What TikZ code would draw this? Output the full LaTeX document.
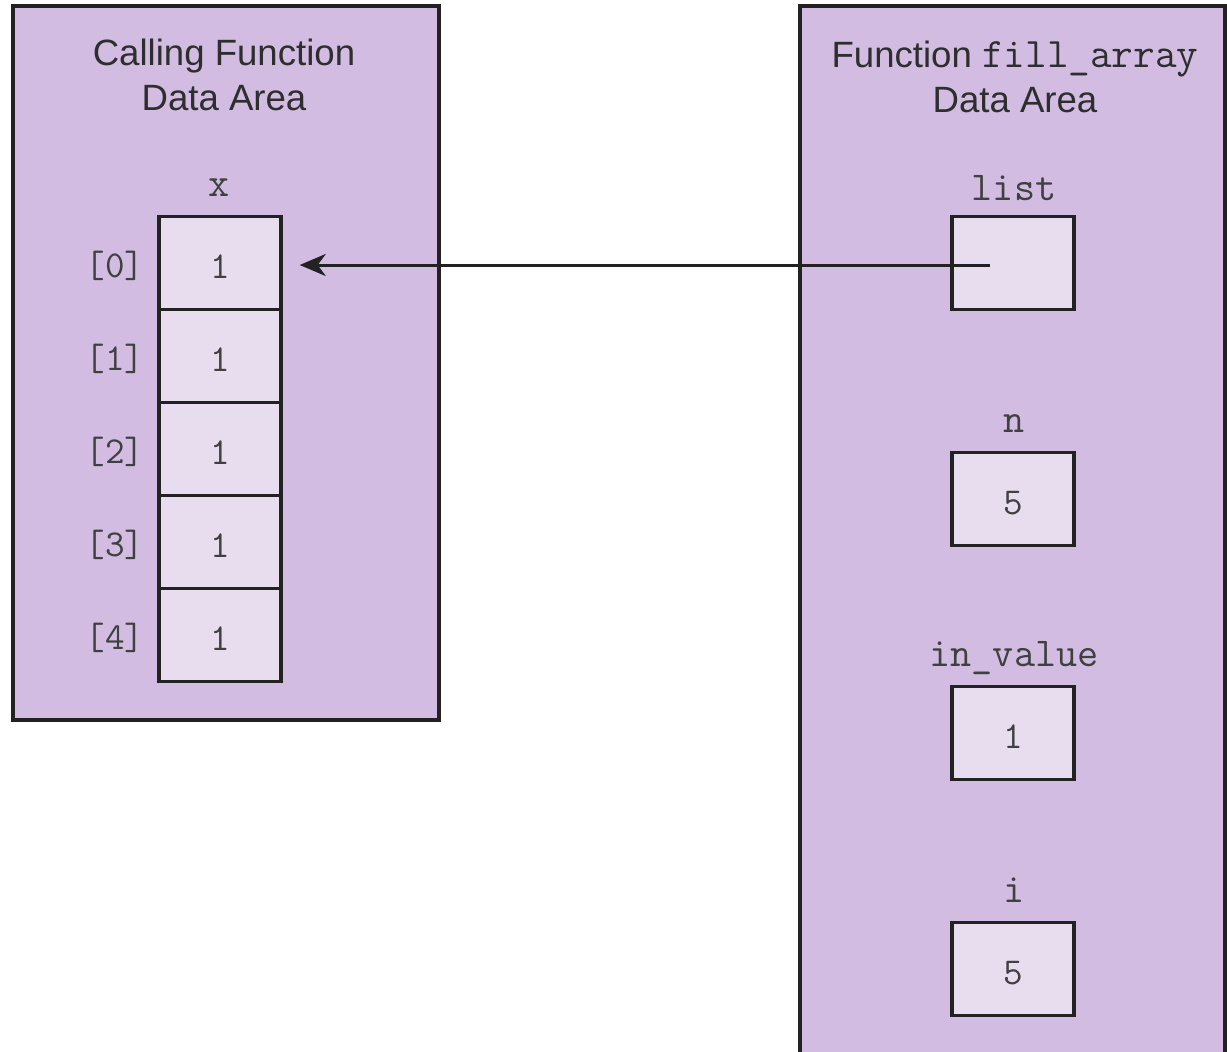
\documentclass[tikz,border=0pt]{standalone}
\usepackage{fontspec}
\setmainfont{Liberation Sans}
\usetikzlibrary{arrows.meta}
\definecolor{areafill}{HTML}{D2BCE2}
\definecolor{cellfill}{HTML}{E8DCEF}
\definecolor{edge}{HTML}{222222}
\definecolor{ink}{HTML}{2E2E2E}
\definecolor{codeink}{HTML}{404040}

% a cell value, set a little below the cell's centre
\newcommand{\cellval}[1]{\raisebox{-2pt}[\height][0pt]{#1}}

\begin{document}
\begin{tikzpicture}[x=0.5pt,y=-0.5pt,
  area/.style={draw=edge,fill=areafill,line width=1.7pt},
  cell/.style={draw=edge,fill=cellfill,line width=1.7pt,
    minimum width=61pt,minimum height=46.5pt,inner sep=0pt,
    font=\ttfamily\fontsize{19}{22}\selectfont,text=codeink},
  title/.style={align=center,font=\fontsize{18.3}{22.5}\selectfont,text=ink},
  varname/.style={font=\ttfamily\fontsize{20.5}{22}\selectfont,text=codeink},
  index/.style={font=\ttfamily\fontsize{19}{22}\selectfont,text=codeink},
  ptr/.style={draw=edge,line width=1.5pt,-{Stealth[length=13pt,width=11pt,inset=4pt]}}
]
\useasboundingbox (0,0) rectangle (1227,1051);

% the two data areas (the callee's area runs off the bottom edge)
\draw[area] (13,6) rectangle (439,720);
\begin{scope}
  \clip (0,0) rectangle (1227,1051);
  \draw[area] (800,6) rectangle (1225,1080);
\end{scope}

% calling function
\node[title] (calltitle) at (224,75) {Calling Function\\Data Area};
\node[varname] (xname) at (219,188) {x};
\foreach \k/\y in {0/263,1/356,2/449,3/542,4/635} {
  \node[cell] (x\k) at (220,\y) {\cellval{1}};
  \node[index] (ix\k) at (115,\y+3) {[\k]};
}

% fill_array
\node[title] (filltitle) at (1015,77) {Function {\ttfamily\fontsize{21}{22}\selectfont fill\_array}\\Data Area};
\node[varname] (listname) at (1014,188) {list};
\node[cell] (list) at (1013,263) {};
\node[varname] (nname) at (1014,424) {n};
\node[cell] (n) at (1013,499) {\cellval{5}};
\node[varname] (inname) at (1014,658) {in\_value};
\node[cell] (inval) at (1013,733) {\cellval{1}};
\node[varname] (iname) at (1014,890) {i};
\node[cell] (i) at (1013,969) {\cellval{5}};

% pointer from list to x[0]
\coordinate (ptrstart) at ([xshift=-11.5pt,yshift=-1pt]list.center);
\coordinate (ptrend) at ([xshift=8.5pt]x0.east);
\draw[ptr] (ptrstart) -- (ptrstart -| ptrend);
\end{tikzpicture}
\end{document}
